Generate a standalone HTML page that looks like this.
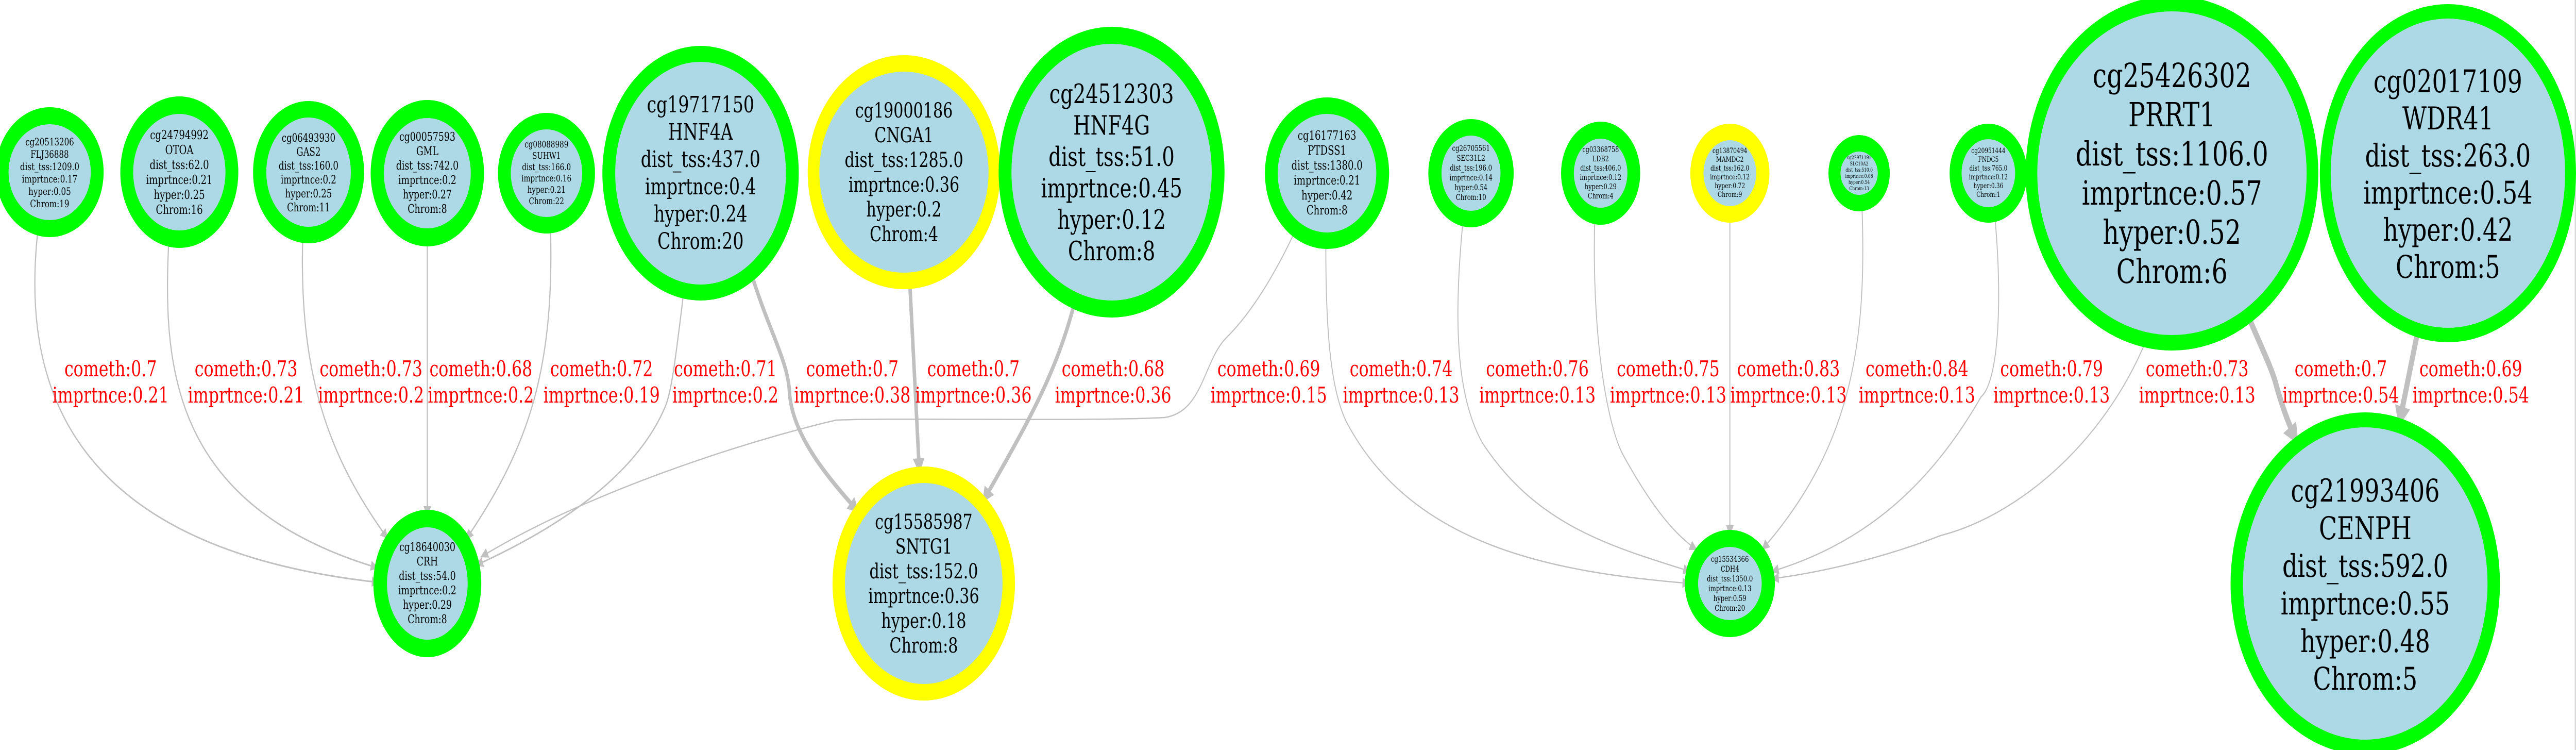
<!DOCTYPE html>
<html><head><meta charset="utf-8"><style>
html,body{margin:0;padding:0;background:#fff;width:100%;height:100%;overflow:hidden;}
svg{display:block;width:100vw;height:100vh;}
text{font-family:"DejaVu Serif","Liberation Serif",serif;text-anchor:middle;}
.e{fill:none;stroke:#c0c0c0;}
.l{fill:#ff0000;font-size:42px;}
</style></head><body>
<svg viewBox="0 0 6637 1455" preserveAspectRatio="none" xmlns="http://www.w3.org/2000/svg">
<defs>
<marker id="a" markerUnits="userSpaceOnUse" viewBox="0 0 10 10" refX="10" refY="5" markerWidth="26" markerHeight="20" orient="auto"><path d="M0,0 L10,5 L0,10 z" fill="#c0c0c0"/></marker>
<marker id="b" markerUnits="userSpaceOnUse" viewBox="0 0 10 10" refX="10" refY="5" markerWidth="36" markerHeight="30" orient="auto"><path d="M0,0 L10,5 L0,10 z" fill="#c0c0c0"/></marker>
<marker id="c" markerUnits="userSpaceOnUse" viewBox="0 0 10 10" refX="10" refY="5" markerWidth="46" markerHeight="40" orient="auto"><path d="M0,0 L10,5 L0,10 z" fill="#c0c0c0"/></marker>
</defs>
<rect x="0" y="0" width="6637" height="1455" fill="#fff"/>
<line x1="6635" y1="0" x2="6635" y2="1455" stroke="#c0c0c0" stroke-width="2"/>

<path class="e" stroke-width="3" marker-end="url(#a)" d="M98,444 C60,700 120,1060 978,1130"/>
<path class="e" stroke-width="3" marker-end="url(#a)" d="M435,464 C420,700 430,980 975,1102"/>
<path class="e" stroke-width="3" marker-end="url(#a)" d="M780,457 C770,720 840,880 1000,1046"/>
<path class="e" stroke-width="3" marker-end="url(#a)" d="M1101,462 L1101,1002"/>
<path class="e" stroke-width="3" marker-end="url(#a)" d="M1418,436 C1430,720 1360,870 1200,1047"/>
<path class="e" stroke-width="3" marker-end="url(#a)" d="M1762,564 C1740,700 1730,760 1714,789 C1640,920 1450,1020 1225,1097"/>
<path class="e" stroke-width="2.5" marker-end="url(#a)" d="M3339,445 C3280,540 3220,610 3160,655 C3100,700 3100,800 3000,810 C2800,818 2300,810 2154,815 C1900,860 1500,960 1238,1081"/>

<path class="e" stroke-width="9" marker-end="url(#b)" d="M1936,531 C1980,640 2030,700 2034,760 C2040,850 2150,940 2214,995"/>
<path class="e" stroke-width="9" marker-end="url(#b)" d="M2344,548 L2369,919"/>
<path class="e" stroke-width="9" marker-end="url(#b)" d="M2769,586 C2720,730 2640,830 2531,975"/>

<path class="e" stroke-width="2.5" marker-end="url(#a)" d="M3416,467 C3415,650 3430,760 3470,820 C3640,1060 4000,1110 4355,1132"/>
<path class="e" stroke-width="2.5" marker-end="url(#a)" d="M3770,424 C3740,650 3760,780 3820,860 C3960,1020 4150,1060 4357,1109"/>
<path class="e" stroke-width="2.5" marker-end="url(#a)" d="M4109,419 C4100,650 4140,820 4180,880 C4260,990 4320,1040 4373,1067"/>
<path class="e" stroke-width="2.5" marker-end="url(#a)" d="M4457,415 L4457,1039"/>
<path class="e" stroke-width="2.5" marker-end="url(#a)" d="M4797,394 C4810,650 4780,860 4539,1067"/>
<path class="e" stroke-width="2.5" marker-end="url(#a)" d="M5139,415 C5160,580 5150,740 5104,770 C4960,960 4780,1060 4563,1109"/>
<path class="e" stroke-width="2.5" marker-end="url(#a)" d="M5529,661 C5420,860 5200,1000 5000,1039 C4860,1080 4700,1110 4563,1123"/>

<path class="e" stroke-width="13" marker-end="url(#c)" d="M5793,614 C5830,680 5850,710 5862,740 C5880,790 5900,830 5922,862"/>
<path class="e" stroke-width="13" marker-end="url(#c)" d="M6230,640 L6180,828"/>

<g class="l">
<text x="285" y="730">cometh:0.7</text><text x="285" y="781">imprtnce:0.21</text>
<text x="634" y="730">cometh:0.73</text><text x="634" y="781">imprtnce:0.21</text>
<text x="956" y="730">cometh:0.73</text><text x="956" y="781">imprtnce:0.2</text>
<text x="1239" y="730">cometh:0.68</text><text x="1239" y="781">imprtnce:0.2</text>
<text x="1550" y="730">cometh:0.72</text><text x="1550" y="781">imprtnce:0.19</text>
<text x="1869" y="730">cometh:0.71</text><text x="1869" y="781">imprtnce:0.2</text>
<text x="2196" y="730">cometh:0.7</text><text x="2196" y="781">imprtnce:0.38</text>
<text x="2508" y="730">cometh:0.7</text><text x="2508" y="781">imprtnce:0.36</text>
<text x="2868" y="730">cometh:0.68</text><text x="2868" y="781">imprtnce:0.36</text>
<text x="3269" y="730">cometh:0.69</text><text x="3269" y="781">imprtnce:0.15</text>
<text x="3610" y="730">cometh:0.74</text><text x="3610" y="781">imprtnce:0.13</text>
<text x="3961" y="730">cometh:0.76</text><text x="3961" y="781">imprtnce:0.13</text>
<text x="4298" y="730">cometh:0.75</text><text x="4298" y="781">imprtnce:0.13</text>
<text x="4608" y="730">cometh:0.83</text><text x="4608" y="781">imprtnce:0.13</text>
<text x="4939" y="730">cometh:0.84</text><text x="4939" y="781">imprtnce:0.13</text>
<text x="5286" y="730">cometh:0.79</text><text x="5286" y="781">imprtnce:0.13</text>
<text x="5661" y="730">cometh:0.73</text><text x="5661" y="781">imprtnce:0.13</text>
<text x="6031" y="730">cometh:0.7</text><text x="6031" y="781">imprtnce:0.54</text>
<text x="6366" y="730">cometh:0.69</text><text x="6366" y="781">imprtnce:0.54</text>
</g>

<g>
<ellipse cx="128" cy="334" rx="139" ry="126" fill="#00ff00"/><ellipse cx="128" cy="334" rx="106" ry="93" fill="#add8e6"/>
<text font-size="20"><tspan x="128" y="282">cg20513206</tspan><tspan x="128" y="306">FLJ36888</tspan><tspan x="128" y="330">dist_tss:1209.0</tspan><tspan x="128" y="354">imprtnce:0.17</tspan><tspan x="128" y="378">hyper:0.05</tspan><tspan x="128" y="402">Chrom:19</tspan></text>

<ellipse cx="462" cy="334" rx="152" ry="147" fill="#00ff00"/><ellipse cx="462" cy="334" rx="119" ry="113" fill="#add8e6"/>
<text font-size="24"><tspan x="462" y="270">cg24794992</tspan><tspan x="462" y="299">OTOA</tspan><tspan x="462" y="328">dist_tss:62.0</tspan><tspan x="462" y="357">imprtnce:0.21</tspan><tspan x="462" y="386">hyper:0.25</tspan><tspan x="462" y="415">Chrom:16</tspan></text>

<ellipse cx="795" cy="334" rx="143" ry="138" fill="#00ff00"/><ellipse cx="795" cy="334" rx="109" ry="106" fill="#add8e6"/>
<text font-size="22"><tspan x="795" y="275">cg06493930</tspan><tspan x="795" y="302">GAS2</tspan><tspan x="795" y="329">dist_tss:160.0</tspan><tspan x="795" y="356">imprtnce:0.2</tspan><tspan x="795" y="383">hyper:0.25</tspan><tspan x="795" y="410">Chrom:11</tspan></text>

<ellipse cx="1101" cy="336" rx="146" ry="142" fill="#00ff00"/><ellipse cx="1101" cy="336" rx="112" ry="107" fill="#add8e6"/>
<text font-size="23"><tspan x="1101" y="273">cg00057593</tspan><tspan x="1101" y="301">GML</tspan><tspan x="1101" y="329">dist_tss:742.0</tspan><tspan x="1101" y="357">imprtnce:0.2</tspan><tspan x="1101" y="385">hyper:0.27</tspan><tspan x="1101" y="413">Chrom:8</tspan></text>

<ellipse cx="1408" cy="336" rx="125" ry="117" fill="#00ff00"/><ellipse cx="1408" cy="336" rx="92" ry="85" fill="#add8e6"/>
<text font-size="18"><tspan x="1408" y="286">cg08088989</tspan><tspan x="1408" y="308">SUHW1</tspan><tspan x="1408" y="330">dist_tss:166.0</tspan><tspan x="1408" y="352">imprtnce:0.16</tspan><tspan x="1408" y="374">hyper:0.21</tspan><tspan x="1408" y="396">Chrom:22</tspan></text>

<ellipse cx="1101" cy="1132" rx="139" ry="143" fill="#00ff00"/><ellipse cx="1101" cy="1132" rx="104" ry="109" fill="#add8e6"/>
<text font-size="23"><tspan x="1101" y="1069">cg18640030</tspan><tspan x="1101" y="1097">CRH</tspan><tspan x="1101" y="1125">dist_tss:54.0</tspan><tspan x="1101" y="1153">imprtnce:0.2</tspan><tspan x="1101" y="1181">hyper:0.29</tspan><tspan x="1101" y="1209">Chrom:8</tspan></text>

<ellipse cx="1805" cy="336" rx="253" ry="247" fill="#00ff00"/><ellipse cx="1805" cy="336" rx="220" ry="216" fill="#add8e6"/>
<text font-size="44"><tspan x="1805" y="218">cg19717150</tspan><tspan x="1805" y="271">HNF4A</tspan><tspan x="1805" y="324">dist_tss:437.0</tspan><tspan x="1805" y="377">imprtnce:0.4</tspan><tspan x="1805" y="430">hyper:0.24</tspan><tspan x="1805" y="483">Chrom:20</tspan></text>

<ellipse cx="2329" cy="334" rx="248" ry="227" fill="#ffff00"/><ellipse cx="2329" cy="334" rx="218" ry="195" fill="#add8e6"/>
<text font-size="40"><tspan x="2329" y="228">cg19000186</tspan><tspan x="2329" y="276">CNGA1</tspan><tspan x="2329" y="324">dist_tss:1285.0</tspan><tspan x="2329" y="372">imprtnce:0.36</tspan><tspan x="2329" y="420">hyper:0.2</tspan><tspan x="2329" y="468">Chrom:4</tspan></text>

<ellipse cx="2864" cy="334" rx="291" ry="282" fill="#00ff00"/><ellipse cx="2864" cy="334" rx="258" ry="249" fill="#add8e6"/>
<text font-size="51"><tspan x="2864" y="200">cg24512303</tspan><tspan x="2864" y="261">HNF4G</tspan><tspan x="2864" y="322">dist_tss:51.0</tspan><tspan x="2864" y="383">imprtnce:0.45</tspan><tspan x="2864" y="444">hyper:0.12</tspan><tspan x="2864" y="505">Chrom:8</tspan></text>

<ellipse cx="2380" cy="1132" rx="235" ry="227" fill="#ffff00"/><ellipse cx="2380" cy="1132" rx="203" ry="195" fill="#add8e6"/>
<text font-size="40"><tspan x="2380" y="1026">cg15585987</tspan><tspan x="2380" y="1074">SNTG1</tspan><tspan x="2380" y="1122">dist_tss:152.0</tspan><tspan x="2380" y="1170">imprtnce:0.36</tspan><tspan x="2380" y="1218">hyper:0.18</tspan><tspan x="2380" y="1266">Chrom:8</tspan></text>

<ellipse cx="3419" cy="336" rx="160" ry="147" fill="#00ff00"/><ellipse cx="3419" cy="336" rx="127" ry="115" fill="#add8e6"/>
<text font-size="24"><tspan x="3419" y="271">cg16177163</tspan><tspan x="3419" y="300">PTDSS1</tspan><tspan x="3419" y="329">dist_tss:1380.0</tspan><tspan x="3419" y="358">imprtnce:0.21</tspan><tspan x="3419" y="387">hyper:0.42</tspan><tspan x="3419" y="416">Chrom:8</tspan></text>

<ellipse cx="3790" cy="336" rx="110" ry="105" fill="#00ff00"/><ellipse cx="3790" cy="336" rx="76" ry="73" fill="#add8e6"/>
<text font-size="15.5"><tspan x="3790" y="293">cg26705561</tspan><tspan x="3790" y="312">SEC31L2</tspan><tspan x="3790" y="331">dist_tss:196.0</tspan><tspan x="3790" y="350">imprtnce:0.14</tspan><tspan x="3790" y="369">hyper:0.54</tspan><tspan x="3790" y="388">Chrom:10</tspan></text>

<ellipse cx="4124" cy="336" rx="102" ry="100" fill="#00ff00"/><ellipse cx="4124" cy="336" rx="69" ry="67" fill="#add8e6"/>
<text font-size="15"><tspan x="4124" y="295">cg03368758</tspan><tspan x="4124" y="313">LDB2</tspan><tspan x="4124" y="331">dist_tss:406.0</tspan><tspan x="4124" y="349">imprtnce:0.12</tspan><tspan x="4124" y="367">hyper:0.29</tspan><tspan x="4124" y="385">Chrom:4</tspan></text>

<ellipse cx="4457" cy="336" rx="102" ry="96" fill="#ffff00"/><ellipse cx="4457" cy="336" rx="68" ry="64" fill="#add8e6"/>
<text font-size="14.3"><tspan x="4457" y="297">cg13870494</tspan><tspan x="4457" y="314">MAMDC2</tspan><tspan x="4457" y="331">dist_tss:162.0</tspan><tspan x="4457" y="348">imprtnce:0.12</tspan><tspan x="4457" y="365">hyper:0.72</tspan><tspan x="4457" y="382">Chrom:9</tspan></text>

<ellipse cx="4790" cy="336" rx="79" ry="74" fill="#00ff00"/><ellipse cx="4790" cy="336" rx="48" ry="42" fill="#add8e6"/>
<text font-size="10"><tspan x="4790" y="309">cg22971191</tspan><tspan x="4790" y="321">SLC10A2</tspan><tspan x="4790" y="333">dist_tss:510.0</tspan><tspan x="4790" y="345">imprtnce:0.08</tspan><tspan x="4790" y="357">hyper:0.54</tspan><tspan x="4790" y="369">Chrom:13</tspan></text>

<ellipse cx="4457" cy="1132" rx="116" ry="104" fill="#00ff00"/><ellipse cx="4457" cy="1132" rx="82" ry="71" fill="#add8e6"/>
<text font-size="15.5"><tspan x="4457" y="1090">cg15534366</tspan><tspan x="4457" y="1109">CDH4</tspan><tspan x="4457" y="1128">dist_tss:1350.0</tspan><tspan x="4457" y="1147">imprtnce:0.13</tspan><tspan x="4457" y="1166">hyper:0.59</tspan><tspan x="4457" y="1185">Chrom:20</tspan></text>

<ellipse cx="5123" cy="336" rx="100" ry="96" fill="#00ff00"/><ellipse cx="5123" cy="336" rx="69" ry="66" fill="#add8e6"/>
<text font-size="14"><tspan x="5123" y="297">cg20951444</tspan><tspan x="5123" y="314">FNDC5</tspan><tspan x="5123" y="331">dist_tss:765.0</tspan><tspan x="5123" y="348">imprtnce:0.12</tspan><tspan x="5123" y="365">hyper:0.36</tspan><tspan x="5123" y="382">Chrom:1</tspan></text>

<ellipse cx="5596" cy="336" rx="377" ry="344" fill="#00ff00"/><ellipse cx="5596" cy="336" rx="347" ry="314" fill="#add8e6"/>
<text font-size="65"><tspan x="5596" y="169">cg25426302</tspan><tspan x="5596" y="245">PRRT1</tspan><tspan x="5596" y="321">dist_tss:1106.0</tspan><tspan x="5596" y="397">imprtnce:0.57</tspan><tspan x="5596" y="473">hyper:0.52</tspan><tspan x="5596" y="549">Chrom:6</tspan></text>

<ellipse cx="6307" cy="336" rx="330" ry="328" fill="#00ff00"/><ellipse cx="6307" cy="336" rx="302" ry="300" fill="#add8e6"/>
<text font-size="61"><tspan x="6307" y="179">cg02017109</tspan><tspan x="6307" y="251">WDR41</tspan><tspan x="6307" y="323">dist_tss:263.0</tspan><tspan x="6307" y="395">imprtnce:0.54</tspan><tspan x="6307" y="467">hyper:0.42</tspan><tspan x="6307" y="539">Chrom:5</tspan></text>

<ellipse cx="6094" cy="1132" rx="347" ry="332" fill="#00ff00"/><ellipse cx="6094" cy="1132" rx="315" ry="303" fill="#add8e6"/>
<text font-size="61"><tspan x="6094" y="973">cg21993406</tspan><tspan x="6094" y="1046">CENPH</tspan><tspan x="6094" y="1119">dist_tss:592.0</tspan><tspan x="6094" y="1192">imprtnce:0.55</tspan><tspan x="6094" y="1265">hyper:0.48</tspan><tspan x="6094" y="1338">Chrom:5</tspan></text>
</g>
</svg>
</body></html>
